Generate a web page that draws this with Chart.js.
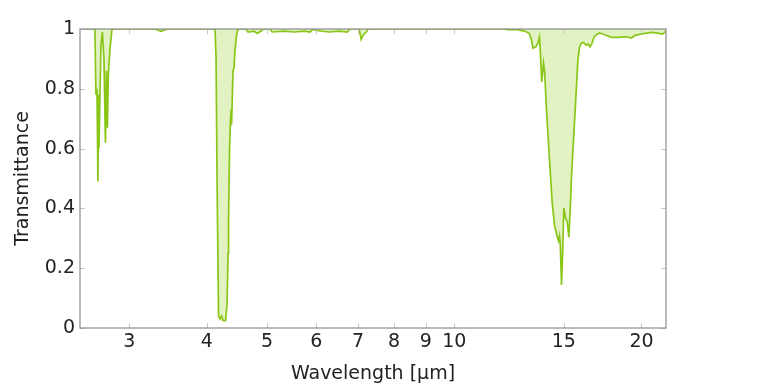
<!DOCTYPE html>
<html>
<head>
<meta charset="utf-8">
<script src="https://cdn.jsdelivr.net/npm/chart.js@4/dist/chart.umd.min.js"></script>
<style>
html,body{margin:0;padding:0;background:#fff;}
#wrap{width:760px;height:385px;position:relative;}
</style>
</head>
<body>
<div id="wrap"><canvas id="c" width="760" height="385"></canvas></div>
<script>
// Wavelength in micrometres
const wavelength = [
  2.50, 2.642, 2.652, 2.662, 2.672, 2.677, 2.682, 2.692, 2.702, 2.716, 2.732, 2.747, 2.757, 2.767, 2.777, 2.793, 2.814,
  3.30, 3.375, 3.45,
  4.122, 4.138, 4.153, 4.176, 4.200, 4.223, 4.247, 4.286, 4.310, 4.326, 4.334, 4.350, 4.366, 4.374, 4.382, 4.398, 4.406, 4.423, 4.439, 4.464, 4.489,
  4.625, 4.659, 4.764, 4.817, 4.889, 4.925, 5.054, 5.092, 5.324, 5.525, 5.733, 5.862, 5.929, 5.995, 6.291, 6.530, 6.726, 6.801,
  7.031, 7.083, 7.136, 7.216, 7.270,
  12.036, 12.171, 12.633, 12.966, 13.209, 13.307, 13.381, 13.531, 13.631, 13.708, 13.759, 13.825, 13.913, 13.975, 14.053,
  14.226, 14.369, 14.492, 14.616, 14.708, 14.763, 14.807, 14.873, 14.940, 15.001, 15.096, 15.191, 15.282, 15.367, 15.436,
  15.522, 15.667, 15.801, 15.901, 16.019, 16.138, 16.289, 16.410, 16.532, 16.655, 16.779, 16.935, 17.124, 17.316, 17.575,
  17.904, 18.239, 18.580, 18.928, 19.282, 19.498, 19.937, 20.385, 20.844, 21.234, 21.632, 21.874
];
// Transmittance (0..1)
const transmittance = [
  1.0, 1.0, 0.78, 0.80, 0.49, 0.78, 0.60, 0.78, 0.95, 0.99, 0.90, 0.62, 0.86, 0.67, 0.85, 0.93, 1.0,
  1.0, 0.992, 1.0,
  1.0, 0.90, 0.50, 0.04, 0.03, 0.04, 0.025, 0.025, 0.08, 0.25, 0.36, 0.60, 0.70, 0.73, 0.68, 0.80, 0.86, 0.87, 0.93, 0.98, 1.0,
  1.0, 0.99, 0.993, 0.985, 0.993, 1.0, 1.0, 0.99, 0.993, 0.99, 0.993, 0.99, 1.0, 0.995, 0.99, 0.993, 0.99, 1.0,
  1.0, 0.965, 0.98, 0.99, 1.0,
  1.0, 0.998, 0.998, 0.993, 0.985, 0.963, 0.936, 0.941, 0.953, 0.973, 0.913, 0.823, 0.886, 0.856, 0.746,
  0.562, 0.418, 0.344, 0.311, 0.291, 0.308, 0.278, 0.144, 0.261, 0.401, 0.368, 0.355, 0.304, 0.405, 0.512,
  0.602, 0.753, 0.896, 0.940, 0.953, 0.955, 0.946, 0.950, 0.940, 0.953, 0.973, 0.982, 0.987, 0.983, 0.978,
  0.972, 0.972, 0.973, 0.974, 0.970, 0.978, 0.983, 0.986, 0.989, 0.986, 0.983, 0.992
];
const xTicks = [3, 4, 5, 6, 7, 8, 9, 10, 15, 20];
const yTicks = [0, 0.2, 0.4, 0.6, 0.8, 1];

const FONT = "'DejaVu Sans', sans-serif";
const LINE = 'rgb(138,198,24)';
const FILL = 'rgba(150,210,40,0.28)';

const frame = {
  id: 'frame',
  afterDatasetsDraw(chart) {
    const {ctx, chartArea: a, scales} = chart;
    ctx.save();
    ctx.strokeStyle = '#c8c8c8';
    ctx.lineWidth = 1;
    const L = 5;
    ctx.beginPath();
    scales.x.ticks.forEach(t => {
      const px = Math.round(scales.x.getPixelForValue(t.value)) + 0.5;
      ctx.moveTo(px, a.bottom); ctx.lineTo(px, a.bottom - L);
      ctx.moveTo(px, a.top); ctx.lineTo(px, a.top + L);
    });
    scales.y.ticks.forEach(t => {
      const py = Math.round(scales.y.getPixelForValue(t.value)) + 0.5;
      ctx.moveTo(a.left, py); ctx.lineTo(a.left + L, py);
      ctx.moveTo(a.right, py); ctx.lineTo(a.right - L, py);
    });
    ctx.stroke();
    ctx.strokeStyle = '#8a8a8a';
    ctx.lineWidth = 1.2;
    ctx.strokeRect(a.left, a.top, a.right - a.left, a.bottom - a.top);
    ctx.restore();
  }
};

new Chart(document.getElementById('c'), {
  type: 'line',
  data: {
    datasets: [{
      data: wavelength.map((x, i) => ({x: x, y: transmittance[i]})),
      borderColor: LINE,
      backgroundColor: FILL,
      borderWidth: 1.7,
      pointRadius: 0,
      tension: 0,
      fill: 'end'
    }]
  },
  options: {
    responsive: false,
    animation: false,
    layout: {padding: {left: 12, right: 94, top: 29, bottom: 0}},
    plugins: {legend: {display: false}, tooltip: {enabled: false}},
    scales: {
      x: {
        type: 'logarithmic',
        min: 2.5,
        max: 21.9,
        afterBuildTicks: axis => { axis.ticks = xTicks.map(v => ({value: v})); },
        afterFit: s => { s.height = 57; },
        grid: {display: false, drawTicks: false},
        border: {display: false},
        ticks: {
          autoSkip: false, maxRotation: 0, padding: 3,
          color: '#222', font: {family: FONT, size: 19},
          callback: v => String(v)
        },
        title: {display: true, text: 'Wavelength [µm]', color: '#222', font: {family: FONT, size: 19}, padding: {top: 2, bottom: 0}}
      },
      y: {
        min: 0,
        max: 1,
        afterBuildTicks: axis => { axis.ticks = yTicks.map(v => ({value: v})); },
        afterFit: s => { s.width = 68; },
        grid: {display: false, drawTicks: false},
        border: {display: false},
        ticks: {
          padding: 5, color: '#222', font: {family: FONT, size: 19},
          callback: v => String(v)
        },
        title: {display: true, text: 'Transmittance', color: '#222', font: {family: FONT, size: 19}, padding: {top: 0, bottom: 2}}
      }
    }
  },
  plugins: [frame]
});
</script>
</body>
</html>
